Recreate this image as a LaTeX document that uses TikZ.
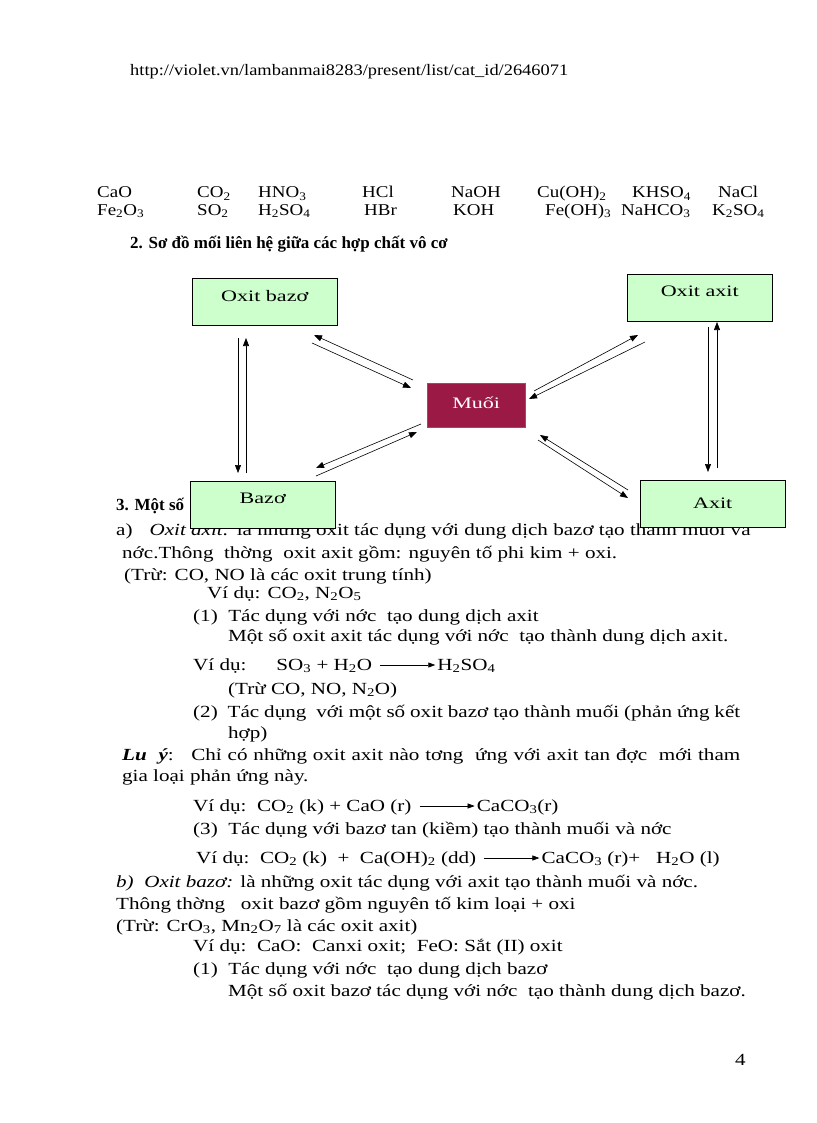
\documentclass[tikz,border=0pt]{standalone}
\usepackage{fontspec}
\setmainfont{Liberation Serif}
\newfontfamily\bodyf[FakeStretch=1.24]{Liberation Serif}
\newfontfamily\fmlf[FakeStretch=1.15]{Liberation Serif}
\newfontfamily\boxf[FakeStretch=1.38]{Liberation Serif}
\newfontfamily\urlf[FakeStretch=1.15]{Liberation Serif}
\usetikzlibrary{arrows.meta,calc}
\newcommand{\sub}[1]{\textsubscript{#1}}
\begin{document}
\begin{tikzpicture}[x=1pt,y=-1pt,
  txt/.style={anchor=base west,inner sep=0pt,font=\bodyf\fontsize{17}{18}\selectfont},
  fml/.style={anchor=base west,inner sep=0pt,font=\fmlf\fontsize{16.5}{17}\selectfont},
  gbox/.style={draw=black,fill=green!20,minimum width=145pt,minimum height=47pt,inner sep=0pt,font=\boxf\fontsize{16}{17}\selectfont},
  arr/.style={-{Triangle[length=8pt,width=6pt]},line width=0.6pt},
  eqarr/.style={-{Triangle[length=7pt,width=5pt]},line width=0.6pt}]
\useasboundingbox[fill=white] (0,0) rectangle (816,1123);
\node[txt,font=\urlf\fontsize{16}{18}\selectfont] (url) at (130,76) {http://violet.vn/lambanmai8283/present/list/cat\_id/2646071};
% formulas
\foreach \x/\t [count=\i] in {97/CaO,197/CO\sub{2},258/HNO\sub{3},362/HCl,451/NaOH,537/Cu(OH)\sub{2},632/KHSO\sub{4},718/NaCl}
  \node[fml] (fa\i) at (\x,198) {\t};
\foreach \x/\t [count=\i] in {97/Fe\sub{2}O\sub{3},197/SO\sub{2},258/H\sub{2}SO\sub{4},364/HBr,453/KOH,545/Fe(OH)\sub{3},621/NaHCO\sub{3},712/K\sub{2}SO\sub{4}}
  \node[fml] (fb\i) at (\x,215) {\t};
\node[txt,font=\fontsize{17}{18}\selectfont\bfseries] (h2) at (130,248) {2. Sơ đồ mối liên hệ giữa các hợp chất vô cơ};
\node[txt,font=\fontsize{17}{18}\selectfont\bfseries] (h3) at (116,510) {3. Một số};
\node[txt] (l1) at (116,535) {a)\quad \textit{Oxit axit:} là những oxit tác dụng với dung dịch bazơ tạo thành muối và};
\node[txt] (l2) at (122,558) {nớc.Thông\ \ thờng\ \ oxit axit gồm: nguyên tố phi kim + oxi.};
\node[txt] (l3) at (124,580) {(Trừ: CO, NO là các oxit trung tính)};
\node[txt] (l4) at (207,598) {Ví dụ: CO\sub{2}, N\sub{2}O\sub{5}};
\node[txt] (l5) at (193,621) {(1)\ \ Tác dụng với nớc\ \ tạo dung dịch axit};
\node[txt] (l6) at (228,641) {Một số oxit axit tác dụng với nớc\ \ tạo thành dung dịch axit.};
\node[txt] (l7) at (193,670) {Ví dụ:\hspace{30pt}SO\sub{3} + H\sub{2}O};
\coordinate (e1a) at ($(l7.base east)+(8,-5)$); \coordinate (e1b) at ($(e1a)+(55,0)$);
\draw[eqarr] (e1a) -- (e1b);
\node[txt] (l7b) at ($(e1b)+(2,5)$) {H\sub{2}SO\sub{4}};
\node[txt] (l8) at (228,694) {(Trừ CO, NO, N\sub{2}O)};
\node[txt] (l9) at (193,717) {\makebox[547pt][s]{(2)\ \ Tác dụng\ \ với một số oxit bazơ tạo thành muối (phản ứng kết}};
\node[txt] (l10) at (228,738) {hợp)};
\node[txt] (l11) at (122,760) {\makebox[618pt][s]{\textbf{\textit{Lu\ \ ý}}:\ \ \ Chỉ có những oxit axit nào tơng\ \ ứng với axit tan đợc\ \ mới tham}};
\node[txt] (l12) at (122,781) {gia loại phản ứng này.};
\node[txt] (l13) at (193,811) {Ví dụ:\ \ CO\sub{2} (k) + CaO (r)};
\coordinate (e2a) at ($(l13.base east)+(8,-5)$); \coordinate (e2b) at ($(e2a)+(55,0)$);
\draw[eqarr] (e2a) -- (e2b);
\node[txt] (l13b) at ($(e2b)+(2,5)$) {CaCO\sub{3}(r)};
\node[txt] (l14) at (193,834) {(3)\ \ Tác dụng với bazơ tan (kiềm) tạo thành muối và nớc};
\node[txt] (l15) at (196,863) {Ví dụ:\ \ CO\sub{2} (k)\ \ +\ \ Ca(OH)\sub{2} (dd)};
\coordinate (e3a) at ($(l15.base east)+(8,-5)$); \coordinate (e3b) at ($(e3a)+(55,0)$);
\draw[eqarr] (e3a) -- (e3b);
\node[txt] (l15b) at ($(e3b)+(2,5)$) {CaCO\sub{3} (r)+\ \ \ H\sub{2}O (l)};
\node[txt] (l16) at (116,887) {\textit{b)\ \ Oxit bazơ:} là những oxit tác dụng với axit\ tạo thành muối và nớc.};
\node[txt] (l17) at (116,909) {Thông thờng\ \ \ oxit bazơ gồm nguyên tố kim loại + oxi};
\node[txt] (l18) at (116,931) {(Trừ: CrO\sub{3}, Mn\sub{2}O\sub{7} là các oxit axit)};
\node[txt] (l19) at (193,951) {Ví dụ:\ \ CaO:\ \ Canxi oxit;\ \ FeO: Sắt (II) oxit};
\node[txt] (l20) at (193,974) {(1)\ \ Tác dụng với nớc\ \ tạo dung dịch bazơ};
\node[txt] (l21) at (228,996) {Một số oxit bazơ tác dụng với nớc\ \ tạo thành dung dịch bazơ.};
\node[txt] (pg) at (735,1065) {4};
% diagram boxes
\node[gbox,anchor=north west] (ob) at (192,278) {\raisebox{12pt}{Oxit bazơ}};
\node[gbox,anchor=north west] (oa) at (627,274) {\raisebox{12pt}{Oxit axit}};
\node[gbox,anchor=north west] (bz) at (190,481) {\raisebox{12pt}{Bazơ}};
\node[gbox,anchor=north west] (ax) at (640,480) {\raisebox{-2pt}{Axit}};
\node[draw=black!60,fill=purple!75!black!90,text=white,minimum width=98pt,minimum height=44pt,inner sep=0pt,anchor=north west,font=\boxf\fontsize{16}{17}\selectfont] (mu) at (427,383) {\raisebox{4pt}{Muối}};
% arrows
\coordinate (a1s) at (238,338); \coordinate (a1e) at (238,473);
\coordinate (a2s) at (246,473); \coordinate (a2e) at (246,338);
\draw[arr] (a1s) -- (a1e); \draw[arr] (a2s) -- (a2e);
\coordinate (b1s) at (413,380); \coordinate (b1e) at (314,335);
\coordinate (b2s) at (312,343); \coordinate (b2e) at (411,388);
\draw[arr] (b1s) -- (b1e); \draw[arr] (b2s) -- (b2e);
\coordinate (c1s) at (645,342); \coordinate (c1e) at (529,399);
\coordinate (c2s) at (534,391); \coordinate (c2e) at (638,335);
\draw[arr] (c1s) -- (c1e); \draw[arr] (c2s) -- (c2e);
\coordinate (d1s) at (708,327); \coordinate (d1e) at (708,472);
\coordinate (d2s) at (717,468); \coordinate (d2e) at (717,322);
\draw[arr] (d1s) -- (d1e); \draw[arr] (d2s) -- (d2e);
\coordinate (f1s) at (421,424); \coordinate (f1e) at (316,468);
\coordinate (f2s) at (316,476); \coordinate (f2e) at (417,432);
\draw[arr] (f1s) -- (f1e); \draw[arr] (f2s) -- (f2e);
\coordinate (g1s) at (628,490); \coordinate (g1e) at (540,435);
\coordinate (g2s) at (538,440); \coordinate (g2e) at (628,498);
\draw[arr] (g1s) -- (g1e); \draw[arr] (g2s) -- (g2e);
\end{tikzpicture}
\end{document}
